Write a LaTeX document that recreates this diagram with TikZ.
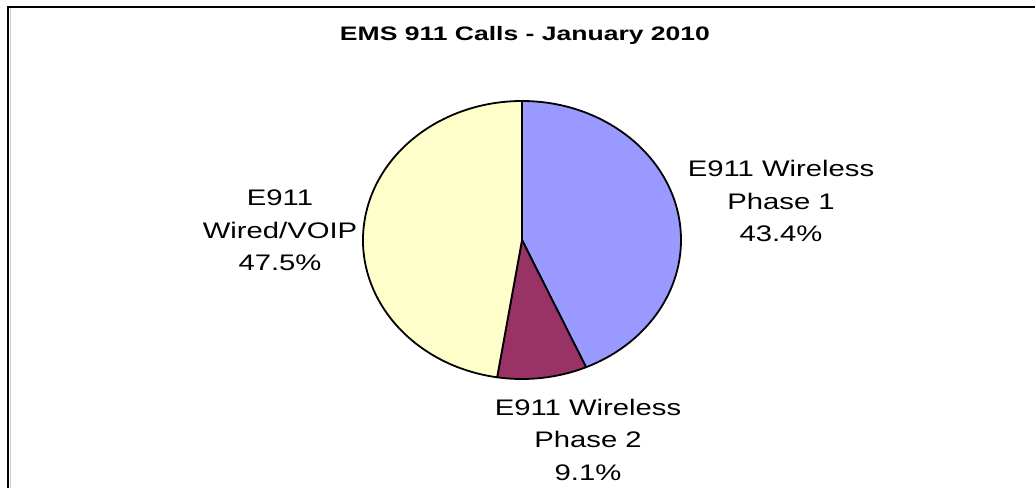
\documentclass[tikz,border=0pt]{standalone}
\usepackage{fontspec}
\setmainfont{Liberation Sans}
\definecolor{wlone}{HTML}{9999FF}
\definecolor{wltwo}{HTML}{993366}
\definecolor{wired}{HTML}{FFFFCC}
\newcommand\widetxt[1]{\scalebox{1.3}[1]{#1}}
\newcommand\widetitle[1]{\scalebox{1.36}[1]{#1}}
\begin{document}
\begin{tikzpicture}[x=1pt,y=1pt,
  slice/.style={draw=black,line width=1.8pt,line join=round},
  lbl/.style={font=\fontsize{22.5}{32.5}\selectfont,align=center,inner sep=0pt,anchor=base},
  ttl/.style={font=\fontsize{19.5}{22}\selectfont\bfseries,inner sep=0pt,anchor=base}]
\useasboundingbox (0,0) rectangle (1035,-488);
% frame
\draw[gray!40,line width=1pt] (10.5,-488) -- (10.5,-8);
\draw[black,line width=2pt] (8,-488) -- (8,-7) -- (1035,-7);
% title
\node[ttl] (title) at (525,-40) {\widetitle{EMS 911 Calls - January 2010}};
% pie
\coordinate (c) at (522,-240);
\filldraw[slice,fill=wlone] (c) -- ++(90:159 and 139) arc[start angle=90,end angle=-66.24,x radius=159,y radius=139] -- cycle;
\filldraw[slice,fill=wltwo] (c) -- ++(-66.24:159 and 139) arc[start angle=-66.24,end angle=-99,x radius=159,y radius=139] -- cycle;
\filldraw[slice,fill=wired] (c) -- ++(-99:159 and 139) arc[start angle=-99,end angle=-270,x radius=159,y radius=139] -- cycle;
% labels (base anchor = baseline of last line)
\node[lbl] (p1) at (781,-241.7) {\widetxt{E911 Wireless}\\\widetxt{Phase 1}\\\widetxt{43.4\%}};
\node[lbl] (p2) at (588,-480) {\widetxt{E911 Wireless}\\\widetxt{Phase 2}\\\widetxt{9.1\%}};
\node[lbl] (wv) at (280,-270.7) {\widetxt{E911}\\\widetxt{Wired/VOIP}\\\widetxt{47.5\%}};
\end{tikzpicture}
\end{document}
